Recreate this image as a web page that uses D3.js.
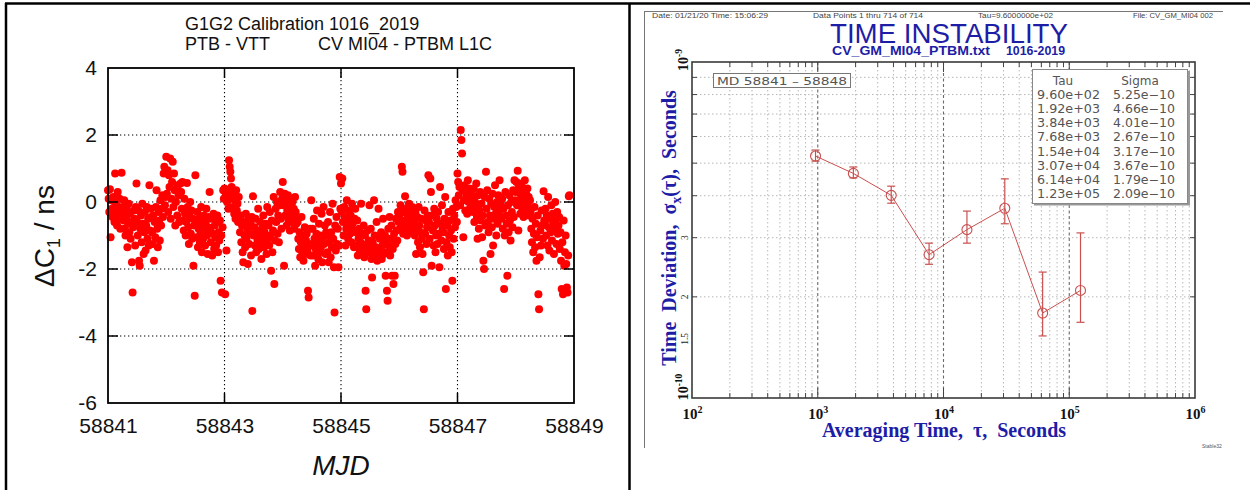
<!DOCTYPE html>
<html>
<head>
<meta charset="utf-8">
<script src="https://cdn.jsdelivr.net/npm/d3@7"></script>
<style>
  body { margin: 0; background: #fff; }
  svg { display: block; }
</style>
</head>
<body>
<svg id="chart" width="1250" height="490" font-family="Arial, 'Liberation Sans', sans-serif"></svg>
<script>
// ---------------- Left panel: G1G2 calibration, PTB - VTT ----------------
const startMJD = 58841;
const sampleSeconds = 960;          // one point every 960 s
const titleLeft1 = "G1G2 Calibration 1016_2019";
const titleLeft2a = "PTB - VTT";
const titleLeft2b = "CV MI04 - PTBM L1C";
const mjdTicks = [58841, 58843, 58845, 58847, 58849];
const nsTicks = [-6, -4, -2, 0, 2, 4];

// ΔC1 in ns, in time order
const dC1 = [
  0.35, 0.1, -0.3, 0.38, -1.05, 0.05, -0.2, -0.45, 0.15, 0.02, -0.6, 0.85, -0.35, -0.1, -0.7, 0.3, -0.25, -0.5, 0.1, -0.8, -0.4, 0.87, -0.15,
  -0.3, -0.55, 0.05, -0.8, -1.0, -0.45, -0.2, -1.35, -0.65, -0.05, -0.9, -0.35, -1.1, -0.6, -1.8, -2.7, -0.75, -0.25, -0.5, -1.3, -0.15, 0.55,
  -0.6, -1.0, -0.25, -1.75, -1.9, -0.8, -0.4, -1.2, -0.05, -0.65, -1.55, -0.9, -0.3, -1.45, -0.7, -0.15, -1.1, -0.5, -1.3, 0.5, -0.85, -0.2, -0.45,
  -0.9, -1.25, -0.4, -1.75, -0.6, -1.05, -0.15, 0.35, -0.8, -1.35, -0.3, -0.55, -1.15, 0.05, -0.7, -0.2, 0.2, -0.45, 0.85, 1.05, -0.1, 0.15,
  1.35, 0.25, 0.95, -0.3, 0.8, 0.45, 1.3, -0.5, 0.1, 0.6, 1.2, -0.15, 0.85, 0.35, -0.7, 0.0, 0.4, -0.4, 0.5, 0.2, -0.6, 0.3, 0.55,
  0.3, -0.2, 0.6, -0.55, -0.85, 0.1, -0.35, -1.0, -0.6, 0.57, -0.15, -0.75, -1.25, -0.4, 0.0, -0.95, -0.25, -1.1, -0.5, -1.9, -0.7, -2.8,
  0.8, -0.6, -1.05, -0.3, -1.35, -0.8, -0.5, -1.2, -0.95, -0.15, -1.5, -0.7, -1.1, -0.4, -0.85, -1.3, -0.6, -0.2, -1.0, -1.55, -0.75, -0.45, 0.3,
  -0.8, -1.2, -0.5, -1.6, -0.95, -0.35, -1.4, -0.7, -1.05, -1.3, -0.6, -0.4, -1.5, -0.9, -1.15, -0.55, -2.35, -1.0, -2.7, -0.75, 0.35, 0.1,
  0.4, -2.75, 0.2, -1.45, 0.0, 0.3, -0.2, 1.25, 1.05, 0.9, 0.7, 0.45, 0.1, -0.15, 0.25, -0.35, 0.05, -0.5, 0.35, -0.25, -0.05, -0.6, 0.15,
  -0.55, -0.9, -0.4, -1.2, -0.7, -1.5, -1.8, -0.6, -1.0, -1.35, -0.35, -1.1, -0.8, -1.85, -0.5, -1.25, -0.95, -0.65, -1.6, -0.45, -3.25, 0.17,
  -1.0, -0.75, -1.3, -0.5, -1.5, -0.85, -1.15, -0.2, -1.4, -0.95, -0.6, -1.25, -1.7, -0.8, -1.05, -0.4, -1.35, -0.9, -1.2, -0.65, -1.55, -0.15, -1.1,
  -0.7, -1.3, -0.3, -1.0, -2.05, -0.55, -1.5, -0.85, 0.15, -2.45, -1.15, -0.2, -0.6, 0.0, -0.95, -0.4, -1.2, -0.1, 0.3, -0.5, -0.8, 0.1,
  0.6, -0.1, -1.9, 0.25, -0.4, 0.05, -0.7, -0.25, 0.2, -0.55, -0.15, -0.85, 0.1, -0.35, -0.6, 0.0, -0.45, -0.2, -0.8, 0.15, -0.3, -0.65, -0.5,
  -0.6, -1.1, -1.4, -0.9, -1.65, -1.2, -0.45, -1.5, -1.0, -1.75, -1.3, -0.75, -1.55, -1.15, -0.95, -1.45, -2.65, -2.85, -1.25, -0.8, -1.6, 0.05,
  -1.3, -0.8, -1.6, -0.5, -1.1, -1.9, -1.4, -0.95, -0.25, -1.2, -1.7, -0.65, -1.5, -1.0, -1.35, -0.35, -1.8, -1.05, -0.15, -1.25, -0.7, -1.55, -0.9,
  -1.0, -1.5, -0.6, -1.8, -1.2, -0.3, -1.65, -0.9, -1.35, -0.05, -1.1, -1.95, -3.3, -0.7, -1.45, -0.45, -1.25, -0.8, -1.95, -1.3, 0.75, -0.2,
  0.55, -0.3, 0.7, -0.6, -1.0, -0.15, -0.45, -1.3, -0.8, 0.05, -0.55, -1.1, -0.25, -0.7, -0.95, -0.4, -1.2, -0.05, -0.65, -0.85, -1.35, -0.5, -0.2,
  -0.9, -1.3, -0.55, -1.6, -1.1, -0.8, -1.45, -1.2, -0.05, -1.55, -0.95, -1.35, -0.7, -1.65, -1.0, -2.65, -3.2, -1.25, -0.85, -1.5, -1.15, -0.1,
  -1.4, -0.8, -1.7, -2.25, -1.2, -1.55, 0.05, -1.0, -1.65, -1.35, -0.6, -1.75, -1.45, -0.2, -1.6, -1.1, -1.5, -0.9, -1.7, -1.3, -0.5, -1.55, -1.2,
  -1.0, -2.2, -1.5, -2.65, -2.95, -0.8, -1.3, -0.45, -1.6, -1.1, -0.7, -2.2, -1.4, -2.45, -0.95, -2.2, -1.25, -0.5, -0.85, -1.15, -0.3, -0.6,
  -0.4, -0.8, -0.1, -0.6, 1.05, 0.9, -0.95, -0.3, -0.55, 0.17, -0.75, -0.2, -1.0, -0.45, -0.65, -0.05, -0.85, -0.35, -0.5, -0.7, -0.15, -0.9, -0.25,
  -0.6, -1.0, -0.3, -1.55, -0.8, -0.45, -1.2, -0.15, -0.7, -1.35, -0.9, -0.5, -1.1, -1.55, -2.1, -3.2, -0.25, -0.95, -0.55, -1.25, -0.75, -0.4,
  0.8, -0.6, -1.1, 0.7, 0.3, -1.9, -0.4, -0.85, -1.3, -0.2, -0.7, -1.5, -1.0, -0.5, -1.25, -0.3, -0.95, -1.95, 0.45, -0.65, -1.15, -0.1, -0.8,
  -0.9, -1.4, -0.5, 0.15, -2.6, -1.2, -0.7, -1.6, -0.3, -1.0, -1.35, -0.55, -0.85, -1.5, -2.35, -0.2, -1.1, -0.4, -0.75, 0.05, -0.15, -0.6,
  0.85, 0.6, 0.2, 0.45, -0.1, 2.15, 1.85, 1.45, 0.35, -1.05, 0.05, 0.5, -0.25, 0.3, 0.15, -0.35, 0.65, 0.0, 0.4, -0.2, 0.1, 0.25, -0.05,
  0.1, -0.3, 0.4, -0.6, 0.0, -0.15, 0.55, -0.45, -1.1, 0.2, -0.8, -0.25, 0.3, -0.55, -0.05, -1.05, -0.4, -1.75, -2.0, 0.15, -0.7, 0.9,
  -0.2, 0.35, -0.6, -0.9, 0.1, -0.4, -1.55, -0.05, -0.75, 0.25, -1.3, -0.5, -0.15, 0.5, -0.35, -1.0, 0.0, -0.65, 0.2, -0.3, 0.65, -0.45, -0.1,
  -0.5, 0.1, -0.8, -0.2, -2.6, -1.0, 0.3, -0.4, -0.65, -2.2, -0.1, -0.9, 0.2, -0.55, -1.15, 0.0, -0.3, -0.75, 0.35, -0.45, 0.65, 0.05,
  0.3, 0.6, -0.1, 0.93, -0.85, 0.45, 0.0, -0.35, 0.2, 0.55, -0.2, 0.35, -0.45, 0.1, 0.65, -0.05, 0.25, -0.3, 0.4, -0.15, 0.15, -0.4, 0.05,
  -0.3, -0.8, -1.2, -0.5, -1.5, -0.95, -0.15, -1.35, -0.65, -1.75, -1.05, -0.4, -2.75, -3.2, -1.65, -0.85, -1.3, -0.25, -0.7, -1.1, 0.32, -0.55,
  -0.6, -0.2, -1.0, -0.4, -1.3, 0.15, -0.75, -1.45, -0.5, -0.9, -0.1, -1.15, -0.35, -0.65, -1.55, -0.85, 0.0, -0.55, -1.25, -0.3, -0.95, -0.7, -0.45,
  -1.4, -0.9, -1.75, -2.6, -1.2, -2.75, -0.55, -1.9, -1.5, -1.0, -1.85, -2.55, -2.7, -1.6, 0.17, 0.2
];

// ---------------- Right panel: Stable32 time deviation ----------------
const headerDate = "Date: 01/21/20   Time: 15:06:29";
const headerPoints = "Data Points 1 thru 714 of 714";
const headerTau = "Tau=9.6000000e+02";
const headerFile = "File: CV_GM_MI04 002";
const titleRight = "TIME INSTABILITY";
const subtitleFile = "CV_GM_MI04_PTBM.txt";
const subtitleRun = "1016-2019";
const rangeLabel = "MD 58841 \u2013 58848";

const tau = [960, 1920, 3840, 7680, 15360, 30720, 61440, 122880];
const tauText = ["9.60e+02", "1.92e+03", "3.84e+03", "7.68e+03", "1.54e+04", "3.07e+04", "6.14e+04", "1.23e+05"];
const sigma = [5.25e-10, 4.66e-10, 4.01e-10, 2.67e-10, 3.17e-10, 3.67e-10, 1.79e-10, 2.09e-10];
const sigmaText = ["5.25e\u221210", "4.66e\u221210", "4.01e\u221210", "2.67e\u221210", "3.17e\u221210", "3.67e\u221210", "1.79e\u221210", "2.09e\u221210"];
const sigmaLo = [5.07e-10, 4.52e-10, 3.80e-10, 2.50e-10, 2.89e-10, 3.30e-10, 1.53e-10, 1.68e-10];
const sigmaHi = [5.47e-10, 4.87e-10, 4.27e-10, 2.89e-10, 3.60e-10, 4.49e-10, 2.37e-10, 3.10e-10];
const tauDecades = [1e2, 1e3, 1e4, 1e5, 1e6];
const sigmaLabels = [
  { v: 1e-9, mant: "10", exp: "-9" },
  { v: 3e-10, text: "3" },
  { v: 2e-10, text: "2" },
  { v: 1.5e-10, text: "1.5" },
  { v: 1e-10, mant: "10", exp: "-10" }
];

const SANS = "Arial, 'Liberation Sans', sans-serif";
const SERIF = "'Liberation Serif', 'Times New Roman', 'DejaVu Serif', serif";
const svg = d3.select("#chart");

// page frame lines
svg.append("line").attr("x1", 5).attr("x2", 1250).attr("y1", 3.5).attr("y2", 3.5)
  .attr("stroke", "#000").attr("stroke-width", 2.5);
svg.append("line").attr("x1", 6).attr("x2", 6).attr("y1", 3).attr("y2", 490)
  .attr("stroke", "#000").attr("stroke-width", 2.5);
svg.append("line").attr("x1", 629.5).attr("x2", 629.5).attr("y1", 3).attr("y2", 490)
  .attr("stroke", "#000").attr("stroke-width", 2.5);

// ===== Left plot =====
const L = { left: 108, right: 574, top: 68, bottom: 403 };
const x1 = d3.scaleLinear().domain([58841, 58849]).range([L.left, L.right]);
const y1 = d3.scaleLinear().domain([-6, 4]).range([L.bottom, L.top]);
const gL = svg.append("g");

// dotted grid
gL.selectAll("line.gx").data(mjdTicks.slice(1, -1)).join("line")
  .attr("x1", d => x1(d)).attr("x2", d => x1(d)).attr("y1", L.top).attr("y2", L.bottom)
  .attr("stroke", "#000").attr("stroke-width", 1.1).attr("stroke-dasharray", "1.3,2.7");
gL.selectAll("line.gy").data(nsTicks.slice(1, -1)).join("line")
  .attr("x1", L.left).attr("x2", L.right).attr("y1", d => y1(d)).attr("y2", d => y1(d))
  .attr("stroke", "#000").attr("stroke-width", 1.1).attr("stroke-dasharray", "1.3,2.7");

// points
const pts = dC1.map((v, i) => ({ t: startMJD + i * sampleSeconds / 86400, v }));
gL.append("g").selectAll("circle").data(pts).join("circle")
  .attr("cx", d => x1(d.t)).attr("cy", d => y1(d.v)).attr("r", 4)
  .attr("fill", "#ff0000");

// ticks on all four sides
const tk = 10;
mjdTicks.slice(1, -1).forEach(d => {
  gL.append("line").attr("x1", x1(d)).attr("x2", x1(d)).attr("y1", L.bottom).attr("y2", L.bottom - tk).attr("stroke", "#000").attr("stroke-width", 1.5);
  gL.append("line").attr("x1", x1(d)).attr("x2", x1(d)).attr("y1", L.top).attr("y2", L.top + tk).attr("stroke", "#000").attr("stroke-width", 1.5);
});
nsTicks.slice(1, -1).forEach(d => {
  gL.append("line").attr("x1", L.left).attr("x2", L.left + tk).attr("y1", y1(d)).attr("y2", y1(d)).attr("stroke", "#000").attr("stroke-width", 1.5);
  gL.append("line").attr("x1", L.right).attr("x2", L.right - tk).attr("y1", y1(d)).attr("y2", y1(d)).attr("stroke", "#000").attr("stroke-width", 1.5);
});
gL.append("rect").attr("x", L.left).attr("y", L.top).attr("width", L.right - L.left).attr("height", L.bottom - L.top)
  .attr("fill", "none").attr("stroke", "#000").attr("stroke-width", 1.8);

// axes labels
const axB = gL.append("g").attr("transform", `translate(0,${L.bottom})`)
  .call(d3.axisBottom(x1).tickValues(mjdTicks).tickFormat(d => String(d)).tickSize(0).tickPadding(15));
axB.select(".domain").remove();
axB.attr("font-family", SANS).attr("font-size", 21);
axB.selectAll("text").attr("fill", "#111");
const axLft = gL.append("g").attr("transform", `translate(${L.left},0)`)
  .call(d3.axisLeft(y1).tickValues(nsTicks).tickFormat(d => String(d)).tickSize(0).tickPadding(11));
axLft.select(".domain").remove();
axLft.attr("font-family", SANS).attr("font-size", 21);
axLft.selectAll("text").attr("fill", "#111");

// titles
gL.append("text").attr("x", 185).attr("y", 30).attr("font-size", 18).attr("fill", "#111").text(titleLeft1);
gL.append("text").attr("x", 185).attr("y", 50).attr("font-size", 18).attr("fill", "#111").text(titleLeft2a);
gL.append("text").attr("x", 318).attr("y", 50).attr("font-size", 18).attr("fill", "#111").text(titleLeft2b);

const yt = gL.append("text").attr("transform", "translate(54,236) rotate(-90)")
  .attr("text-anchor", "middle").attr("font-size", 28).attr("fill", "#111");
yt.append("tspan").text("\u0394C");
yt.append("tspan").attr("font-size", 18).attr("dy", 6).text("1");
yt.append("tspan").attr("dy", -6).text(" / ns");

gL.append("text").attr("x", 341).attr("y", 475).attr("text-anchor", "middle")
  .attr("font-size", 28).attr("font-style", "italic").attr("fill", "#111").text("MJD");

// ===== Right plot =====
const R = { left: 692, right: 1195, top: 62, bottom: 398 };
const x2 = d3.scaleLog().domain([1e2, 1e6]).range([R.left, R.right]);
const y2 = d3.scaleLog().domain([1e-10, 1e-9]).range([R.bottom, R.top]);
const gR = svg.append("g");
const blue = "#1d1da6";
const red = "#c9504f";

// frame of the Stable32 page
gR.append("line").attr("x1", 644).attr("x2", 1223).attr("y1", 11.5).attr("y2", 11.5).attr("stroke", "#777").attr("stroke-width", 1);
gR.append("line").attr("x1", 644.5).attr("x2", 644.5).attr("y1", 11).attr("y2", 448).attr("stroke", "#777").attr("stroke-width", 1);

// header
const hdr = [[headerDate, 652, 116], [headerPoints, 813, 110], [headerTau, 978, 75], [headerFile, 1133, 80]];
hdr.forEach(([t, x, w]) => {
  gR.append("text").attr("x", x).attr("y", 17.5).attr("font-size", 7.5).attr("fill", "#444")
    .attr("textLength", w).attr("lengthAdjust", "spacingAndGlyphs").text(t);
});
gR.append("text").attr("x", 830).attr("y", 42.5).attr("font-size", 27).attr("fill", blue)
  .attr("textLength", 238).attr("lengthAdjust", "spacingAndGlyphs").text(titleRight);
gR.append("text").attr("x", 832).attr("y", 55).attr("font-size", 13).attr("font-weight", "bold").attr("fill", blue)
  .attr("textLength", 158).attr("lengthAdjust", "spacingAndGlyphs").text(subtitleFile);
gR.append("text").attr("x", 1006).attr("y", 55).attr("font-size", 13).attr("font-weight", "bold").attr("fill", blue)
  .attr("textLength", 59).attr("lengthAdjust", "spacingAndGlyphs").text(subtitleRun);

// grid
const xMinor = x2.ticks().filter(d => !tauDecades.includes(d));
const xMajor = tauDecades.slice(1, -1);
const yMinor = y2.ticks().filter(d => d > 1.01e-10 && d < 0.99e-9);
gR.selectAll("line.xmin").data(xMinor).join("line")
  .attr("x1", d => x2(d)).attr("x2", d => x2(d)).attr("y1", R.top).attr("y2", R.bottom)
  .attr("stroke", "#b8b8b8").attr("stroke-width", 1).attr("stroke-dasharray", "1.5,2.5");
gR.selectAll("line.ymin").data(yMinor).join("line")
  .attr("x1", R.left).attr("x2", R.right).attr("y1", d => y2(d)).attr("y2", d => y2(d))
  .attr("stroke", "#b8b8b8").attr("stroke-width", 1).attr("stroke-dasharray", "1.5,2.5");
gR.selectAll("line.xmaj").data(xMajor).join("line")
  .attr("x1", d => x2(d)).attr("x2", d => x2(d)).attr("y1", R.top).attr("y2", R.bottom)
  .attr("stroke", "#6a6a6a").attr("stroke-width", 1.1).attr("stroke-dasharray", "3,2.5");

// ticks
const tick = (x1_, y1_, x2_, y2_) => gR.append("line").attr("x1", x1_).attr("y1", y1_).attr("x2", x2_).attr("y2", y2_)
  .attr("stroke", "#444").attr("stroke-width", 1);
xMinor.forEach(d => { tick(x2(d), R.top, x2(d), R.top + 5); tick(x2(d), R.bottom, x2(d), R.bottom - 5); });
xMajor.forEach(d => { tick(x2(d), R.top, x2(d), R.top + 10); tick(x2(d), R.bottom, x2(d), R.bottom - 10); });
yMinor.forEach(d => { tick(R.left, y2(d), R.left + 5, y2(d)); tick(R.right, y2(d), R.right - 5, y2(d)); });

// plot border
gR.append("rect").attr("x", R.left).attr("y", R.top).attr("width", R.right - R.left).attr("height", R.bottom - R.top)
  .attr("fill", "none").attr("stroke", "#3a3a3a").attr("stroke-width", 1.6);

// x decade labels
const axX = gR.append("g").attr("transform", `translate(0,${R.bottom})`)
  .call(d3.axisBottom(x2).tickValues(tauDecades).tickSize(0).tickFormat(""));
axX.select(".domain").remove();
axX.attr("font-family", SERIF).attr("font-size", 15).attr("font-weight", "bold");
axX.selectAll(".tick text").each(function (d) {
  const t = d3.select(this).attr("y", 21).attr("dy", 0)
    .attr("fill", "#111").attr("text-anchor", "middle");
  t.append("tspan").text("10");
  t.append("tspan").attr("font-size", 10).attr("dy", -6).text(String(Math.round(Math.log10(d))));
});

// y labels (rotated)
sigmaLabels.forEach(l => {
  const yy = y2(l.v);
  if (l.mant) {
    const cy = l.v === 1e-9 ? yy - 2 : yy - 11;
    const t = gR.append("text").attr("transform", `translate(688,${cy}) rotate(-90)`)
      .attr("text-anchor", "middle").attr("font-family", SERIF)
      .attr("font-weight", "bold").attr("font-size", 14).attr("fill", "#111");
    t.append("tspan").text(l.mant);
    t.append("tspan").attr("font-size", 9.5).attr("dy", -6).text(l.exp);
  } else {
    gR.append("text").attr("transform", `translate(687.5,${yy}) rotate(-90)`)
      .attr("text-anchor", "middle").attr("font-family", SERIF)
      .attr("font-size", 9.5).attr("fill", "#222").text(l.text);
  }
});

// axis titles
gR.append("text").attr("x", 944).attr("y", 437).attr("text-anchor", "middle")
  .attr("font-family", SERIF).attr("font-weight", "bold")
  .attr("font-size", 20).attr("fill", blue).style("white-space", "pre")
  .text("Averaging Time,  \u03c4,  Seconds");
const yTitle = gR.append("text").attr("transform", "translate(676,228) rotate(-90)").attr("text-anchor", "middle")
  .attr("font-family", SERIF).attr("font-weight", "bold")
  .attr("font-size", 20).attr("fill", blue).style("white-space", "pre");
yTitle.append("tspan").text("Time  Deviation,  \u03c3");
yTitle.append("tspan").attr("font-size", 14).attr("dy", 5).text("x");
yTitle.append("tspan").attr("dy", -5).text("(\u03c4),  Seconds");

// series: line, error bars, circles
const series = tau.map((t, i) => ({ t, s: sigma[i], lo: sigmaLo[i], hi: sigmaHi[i] }));
gR.append("path").datum(series)
  .attr("d", d3.line().x(d => x2(d.t)).y(d => y2(d.s)))
  .attr("fill", "none").attr("stroke", red).attr("stroke-width", 1);
const eb = gR.append("g").attr("stroke", red).attr("stroke-width", 1.2);
series.forEach(d => {
  const x = x2(d.t);
  eb.append("line").attr("x1", x).attr("x2", x).attr("y1", y2(d.lo)).attr("y2", y2(d.hi));
  eb.append("line").attr("x1", x - 4).attr("x2", x + 4).attr("y1", y2(d.lo)).attr("y2", y2(d.lo));
  eb.append("line").attr("x1", x - 4).attr("x2", x + 4).attr("y1", y2(d.hi)).attr("y2", y2(d.hi));
});
gR.append("g").selectAll("circle").data(series).join("circle")
  .attr("cx", d => x2(d.t)).attr("cy", d => y2(d.s)).attr("r", 5)
  .attr("fill", "none").attr("stroke", red).attr("stroke-width", 1.1);

// range label box
gR.append("rect").attr("x", 713.5).attr("y", 73.5).attr("width", 137).attr("height", 14)
  .attr("fill", "#fff").attr("stroke", "#777").attr("stroke-width", 1);
gR.append("text").attr("x", 717).attr("y", 85).attr("font-family", "'DejaVu Sans', sans-serif")
  .attr("font-size", 11).attr("fill", "#555").attr("textLength", 130).attr("lengthAdjust", "spacingAndGlyphs")
  .text(rangeLabel);

// tau / sigma table
gR.append("line").attr("x1", 1189).attr("x2", 1189).attr("y1", 71).attr("y2", 205).attr("stroke", "#999").attr("stroke-width", 2);
gR.append("line").attr("x1", 1034).attr("x2", 1190).attr("y1", 204.5).attr("y2", 204.5).attr("stroke", "#999").attr("stroke-width", 2);
gR.append("rect").attr("x", 1032.5).attr("y", 69.5).attr("width", 155).attr("height", 134)
  .attr("fill", "#fff").attr("stroke", "#888").attr("stroke-width", 1);
const tfont = "'DejaVu Sans', sans-serif";
gR.append("text").attr("x", 1063).attr("y", 85).attr("text-anchor", "middle").attr("font-family", tfont)
  .attr("font-size", 12).attr("fill", "#555").text("Tau");
gR.append("text").attr("x", 1140).attr("y", 85).attr("text-anchor", "middle").attr("font-family", tfont)
  .attr("font-size", 12).attr("fill", "#555").text("Sigma");
tauText.forEach((t, i) => {
  const yy = 99 + i * 14.15;
  gR.append("text").attr("x", 1037).attr("y", yy).attr("font-family", tfont).attr("font-size", 12)
    .attr("fill", "#555").attr("textLength", 63).attr("lengthAdjust", "spacingAndGlyphs").text(t);
  gR.append("text").attr("x", 1113).attr("y", yy).attr("font-family", tfont).attr("font-size", 12)
    .attr("fill", "#555").attr("textLength", 62).attr("lengthAdjust", "spacingAndGlyphs").text(sigmaText[i]);
});

// program tag
gR.append("text").attr("x", 1202).attr("y", 448).attr("font-size", 5).attr("fill", "#555").text("Stable32");
</script>
</body>
</html>
